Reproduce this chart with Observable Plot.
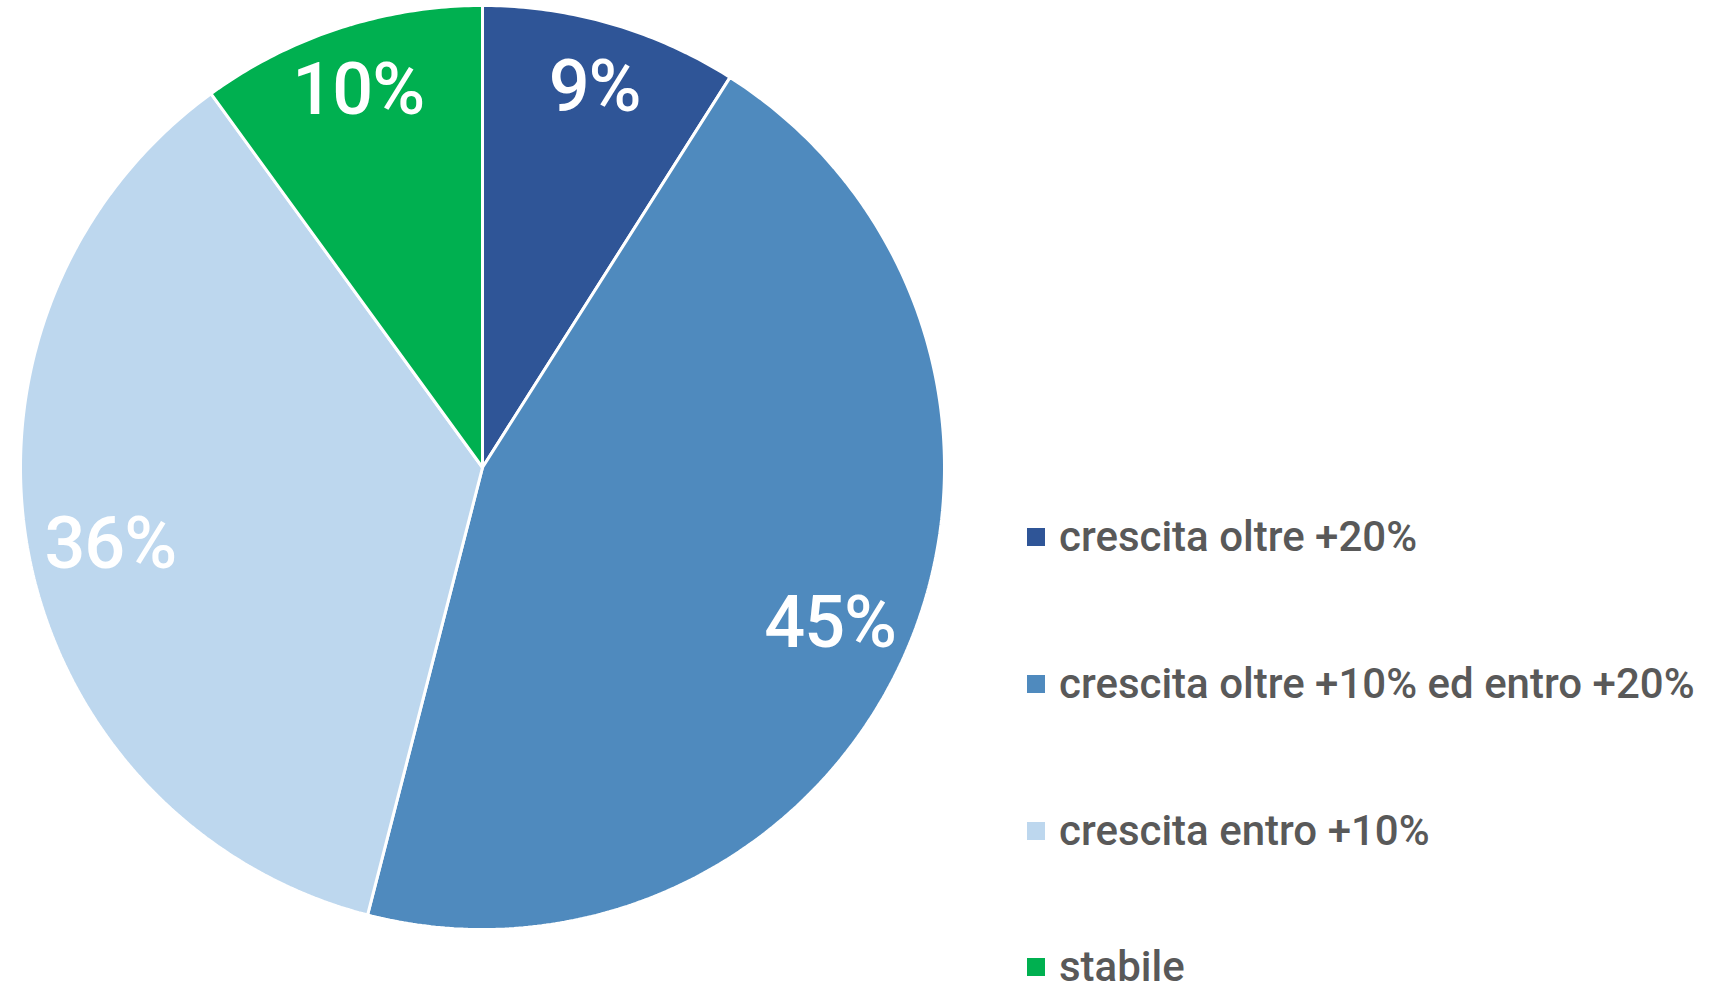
<!DOCTYPE html>
<html>
<head>
<meta charset="utf-8">
<script src="https://cdn.jsdelivr.net/npm/d3@7"></script>
<script src="https://cdn.jsdelivr.net/npm/@observablehq/plot@0.6"></script>
<style>
  html, body { margin: 0; padding: 0; background: #ffffff; }
  #wrap { position: relative; width: 1711px; height: 993px; overflow: hidden; }
  #legend { position: absolute; left: 1027px; top: 0; font-family: Roboto, "Noto Sans", sans-serif; font-weight: 500; font-size: 42px; line-height: 1; color: #595959; }
  .item { position: absolute; left: 0; display: flex; align-items: center; height: 42px; white-space: nowrap; }
  .sw { width: 18px; height: 18px; margin-right: 14px; flex: none; }
  #chart svg text { letter-spacing: -1px; }
</style>
</head>
<body>
<div id="wrap"><div id="chart"></div><div id="legend"></div></div>
<script>
const categories = ["crescita oltre +20%", "crescita oltre +10% ed entro +20%", "crescita entro +10%", "stabile"];
const values = [9, 45, 36, 10];
const labels = ["9%", "45%", "36%", "10%"];
const colors = ["#2F5597", "#4F8ABE", "#BDD7EE", "#00B050"];

const pie = d3.pie().sort(null).value(d => d.value)(categories.map((c, i) => ({cat: c, value: values[i], label: labels[i]})));

// polygon outline of each slice on the unit circle (y up)
const pts = [];
for (const s of pie) {
  pts.push({cat: s.data.cat, x: 0, y: 0});
  const n = Math.max(2, Math.ceil((s.endAngle - s.startAngle) / 0.01));
  for (let k = 0; k <= n; k++) {
    const a = s.startAngle + (s.endAngle - s.startAngle) * k / n;
    pts.push({cat: s.data.cat, x: Math.sin(a), y: Math.cos(a)});
  }
}
const lab = pie.map(s => {
  const a = (s.startAngle + s.endAngle) / 2;
  const r = s.data.value < 20 ? 0.87 : 0.82;
  return {label: s.data.label, x: r * Math.sin(a), y: r * Math.cos(a)};
});

const chart = Plot.plot({
  width: 1711,
  height: 993,
  margin: 0,
  x: {domain: [-1, 1], range: [20, 944], axis: null},
  y: {domain: [-1, 1], range: [929, 5], axis: null},
  color: {domain: categories, range: colors},
  style: {background: "white"},
  marks: [
    Plot.line(pts, {x: "x", y: "y", z: "cat", fill: "cat", stroke: "white", strokeWidth: 3, curve: "linear-closed", strokeLinejoin: "miter"}),
    Plot.text(lab, {x: "x", y: "y", text: "label", fill: "white", fontSize: 72, fontWeight: 500, fontFamily: "Roboto", dy: 6})
  ]
});
document.getElementById("chart").appendChild(chart);

const tops = [516, 663, 810, 946];
const leg = document.getElementById("legend");
categories.forEach((c, i) => {
  const it = document.createElement("div");
  it.className = "item";
  it.style.top = tops[i] + "px";
  const sw = document.createElement("span");
  sw.className = "sw";
  sw.style.background = colors[i];
  const tx = document.createElement("span");
  tx.textContent = c;
  it.appendChild(sw); it.appendChild(tx);
  leg.appendChild(it);
});
</script>
</body>
</html>
